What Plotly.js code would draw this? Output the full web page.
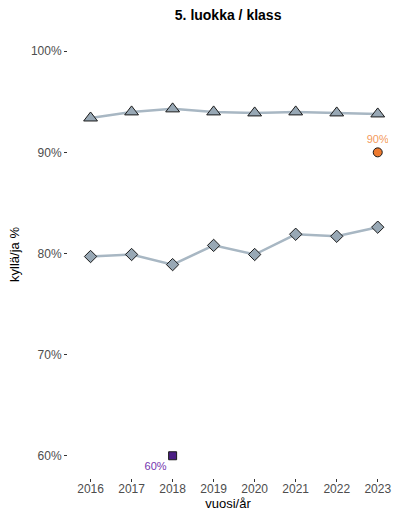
<!DOCTYPE html>
<html>
<head>
<meta charset="utf-8">
<script src="https://cdn.plot.ly/plotly-3.0.1.min.js"></script>
<style>html,body{margin:0;padding:0;background:#fff;}#chart{width:394px;height:511px;}</style>
</head>
<body>
<div id="chart"></div>
<script>
const years = [2016, 2017, 2018, 2019, 2020, 2021, 2022, 2023];
const triangleSeries = [93.4, 94.0, 94.3, 94.0, 93.9, 94.0, 93.9, 93.8];
const diamondSeries = [79.7, 79.9, 78.9, 80.8, 79.9, 81.9, 81.7, 82.6];
const highYear = [2023];
const highValue = [90];
const highLabel = ['90%'];
const lowYear = [2018];
const lowValue = [60];
const lowLabel = ['60%'];
const yTickVals = [60, 70, 80, 90, 100];
const yTickText = ['60%', '70%', '80%', '90%', '100%'];

const lineColor = '#A8B7C3';
const markerFill = '#98A8B5';

const traces = [
  {
    x: years, y: triangleSeries, type: 'scatter', mode: 'lines+markers',
    line: {color: lineColor, width: 2.5},
    marker: {symbol: 'triangle-up', size: 12, color: markerFill, line: {color: '#1a1a1a', width: 1}},
    hoverinfo: 'skip'
  },
  {
    x: years, y: diamondSeries, type: 'scatter', mode: 'lines+markers',
    line: {color: lineColor, width: 2.5},
    marker: {symbol: 'diamond', size: 9.5, color: markerFill, line: {color: '#1a1a1a', width: 1}},
    hoverinfo: 'skip'
  },
  {
    x: highYear, y: highValue, type: 'scatter', mode: 'markers+text',
    text: highLabel, textposition: 'top center',
    textfont: {family: 'Liberation Sans, Arial, sans-serif', size: 11, color: '#F39A5C'},
    marker: {symbol: 'circle', size: 9, color: '#EE7A2F', line: {color: '#1a1a1a', width: 1}},
    hoverinfo: 'skip'
  },
  {
    x: lowYear, y: lowValue, type: 'scatter', mode: 'markers+text',
    text: lowLabel, textposition: 'bottom left',
    textfont: {family: 'Liberation Sans, Arial, sans-serif', size: 11, color: '#7436AE'},
    marker: {symbol: 'square', size: 8, color: '#4B1E84', line: {color: '#1a1a1a', width: 1}},
    hoverinfo: 'skip'
  }
];

const layout = {
  width: 394, height: 511,
  margin: {l: 68, r: 6, t: 31, b: 33},
  paper_bgcolor: '#ffffff', plot_bgcolor: '#ffffff',
  showlegend: false,
  font: {family: 'Liberation Sans, Arial, sans-serif', color: '#4D4D4D'},
  title: {
    text: '<b>5. luokka / klass</b>',
    font: {family: 'Liberation Sans, Arial, sans-serif', size: 14, color: '#000000'},
    x: 0.579, xanchor: 'center', y: 0.97, yanchor: 'middle'
  },
  xaxis: {
    range: [2015.45, 2023.25],
    tickvals: years, ticktext: years.map(String),
    showgrid: false, zeroline: false, showline: false,
    ticks: 'outside', ticklen: 3, tickcolor: '#333333', tickwidth: 1,
    ticklabelstandoff: -3,
    tickfont: {size: 12, color: '#4D4D4D'},
    title: {text: 'vuosi/år', font: {size: 13, color: '#000000'}, standoff: 0}
  },
  yaxis: {
    range: [57.8, 102],
    tickvals: yTickVals, ticktext: yTickText,
    showgrid: false, zeroline: false, showline: false,
    ticks: 'outside', ticklen: 3, tickcolor: '#333333', tickwidth: 1,
    tickfont: {size: 12, color: '#4D4D4D'},
    title: {text: 'kyllä/ja %', font: {size: 13, color: '#000000'}, standoff: 8}
  }
};

Plotly.newPlot('chart', traces, layout, {displayModeBar: false, staticPlot: true});
</script>
</body>
</html>
